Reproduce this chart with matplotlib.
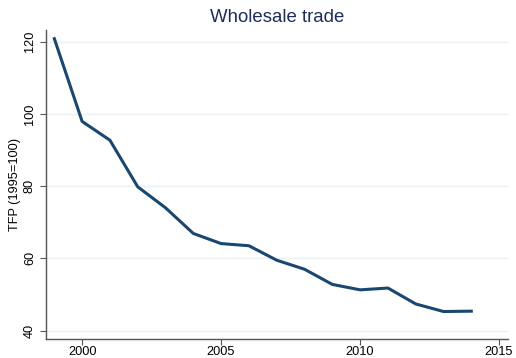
import matplotlib.pyplot as plt

plt.rcParams['font.family'] = ['Liberation Sans', 'DejaVu Sans']

years = [1999, 2000, 2001, 2002, 2003, 2004, 2005, 2006,
         2007, 2008, 2009, 2010, 2011, 2012, 2013, 2014]
tfp = [120.8, 97.9, 92.7, 79.8, 74.0, 66.9, 64.1, 63.5,
       59.5, 57.0, 52.8, 51.3, 51.8, 47.4, 45.3, 45.4]
x_ticks = [2000, 2005, 2010, 2015]
y_ticks = [40, 60, 80, 100, 120]

navy = '#1a476f'
grid_c = '#eaf2f3'
axis_c = '#555555'

fig = plt.figure(figsize=(5.16, 3.58), dpi=100)
ax = fig.add_axes([0.0886, 0.0531, 0.8959, 0.8631])

ax.plot(years, tfp, color=navy, linewidth=2.2, solid_joinstyle='round', zorder=3)

ax.set_xlim(1998.69, 2015.32)
ax.set_ylim(37.7, 123.2)
ax.set_xticks(x_ticks)
ax.set_yticks(y_ticks)
ax.set_yticklabels([str(v) for v in y_ticks], rotation=90, va='center')
ax.yaxis.grid(True, color=grid_c, linewidth=1.0)
ax.set_axisbelow(True)

for s in ['top', 'right']:
    ax.spines[s].set_visible(False)
for s in ['left', 'bottom']:
    ax.spines[s].set_color(axis_c)
    ax.spines[s].set_linewidth(1.0)

ax.tick_params(axis='both', colors=axis_c, labelcolor='black', length=4,
               width=0.8, labelsize=9.2, direction='out')
ax.tick_params(axis='y', pad=3)
ax.tick_params(axis='x', pad=1)

ax.set_ylabel('TFP (1995=100)', fontsize=9.2)
ax.yaxis.set_label_coords(-0.053, 0.5)
ax.set_title('Wholesale trade', fontsize=13.4, color='#1e2d5a', pad=6)

fig.savefig('out.png', dpi=100)
